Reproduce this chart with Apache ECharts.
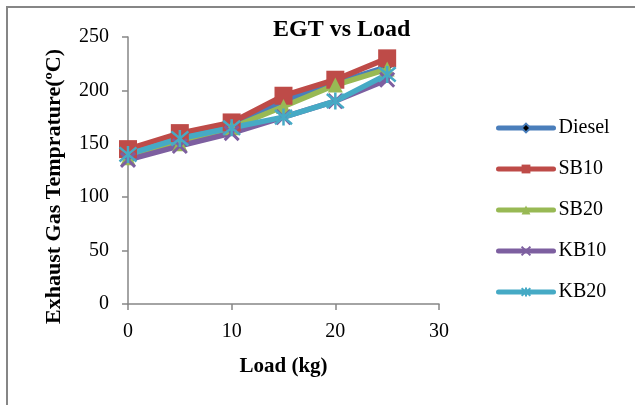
<!DOCTYPE html>
<html lang="en">
<head>
    <meta charset="UTF-8">
    <title>EGT vs Load</title>
    <script src="https://cdn.jsdelivr.net/npm/echarts@6/dist/echarts.min.js"></script>
</head>
<body style="margin:0;background:#fff;">
<div id="chart" style="width:635px;height:405px;"></div>
<script type="text/javascript">
    // load in kg
    const loads = [0, 5, 10, 15, 20, 25];
    // exhaust gas temperature, deg C
    const diesel = [140, 155, 168, 190, 207, 222];
    const sb10 = [145, 160, 170, 195, 210, 230];
    const sb20 = [137, 150, 165, 185, 205, 220];
    const kb10 = [135, 148, 160, 175, 190, 210];
    const kb20 = [140, 155, 165, 175, 190, 215];

    const xTicks = [0, 10, 20, 30];
    const yTicks = [0, 50, 100, 150, 200, 250];

    const serif = '"Liberation Serif", "DejaVu Serif", serif';
    const axisGrey = '#868686';

    function pairs(vals) {
        return loads.map(function (x, i) { return [x, vals[i]]; });
    }

    function makeSeries(name, vals, color, symbol, size, extra) {
        let s = {
            name: name,
            type: 'line',
            data: pairs(vals),
            symbol: symbol,
            symbolSize: size,
            showAllSymbol: true,
            lineStyle: {color: color, width: 5.5, cap: 'round', join: 'round'},
            itemStyle: {color: color},
            emphasis: {disabled: true},
            animation: false
        };
        if (extra) {
            s.itemStyle = extra;
        }
        return s;
    }

    // x and asterisk markers are stroked paths
    const xMark = 'path://M0,0L10,10M10,0L0,10';
    const starMark = 'path://M0,0L10,10M10,0L0,10M5,-1L5,11';

    let myChart = echarts.init(document.getElementById('chart'));
    myChart.setOption({
        animation: false,
        title: {
            text: 'EGT vs Load',
            left: 268,
            top: 13,
            textStyle: {fontFamily: serif, fontSize: 24, fontWeight: 'bold', color: '#000'}
        },
        graphic: [{
            type: 'rect',
            shape: {x: 7, y: 7, width: 700, height: 500},
            style: {fill: 'none', stroke: axisGrey, lineWidth: 2},
            silent: true
        }],
        legend: {
            orient: 'vertical',
            left: 491,
            top: 113,
            itemWidth: 55,
            itemHeight: 11,
            itemGap: 21,
            lineStyle: {width: 5, cap: 'round'},
            textStyle: {fontFamily: serif, fontSize: 20, color: '#000', lineHeight: 20},
            data: ['Diesel', 'SB10', 'SB20', 'KB10', 'KB20']
        },
        grid: {left: 128, right: 196, top: 37, bottom: 101, containLabel: false},
        xAxis: {
            type: 'value',
            min: 0,
            max: 30,
            interval: 10,
            name: 'Load (kg)',
            nameLocation: 'middle',
            nameGap: 52,
            nameTextStyle: {fontFamily: serif, fontSize: 21, fontWeight: 'bold', color: '#000'},
            axisLine: {show: true, lineStyle: {color: axisGrey, width: 1.5}},
            axisTick: {show: true, inside: false, length: 6, lineStyle: {color: axisGrey, width: 1.5}},
            axisLabel: {
                fontFamily: serif, fontSize: 20, color: '#000', margin: 18,
                formatter: function (v) { return xTicks.indexOf(v) >= 0 ? String(v) : ''; }
            },
            splitLine: {show: false}
        },
        yAxis: {
            type: 'value',
            min: 0,
            max: 250,
            interval: 50,
            name: 'Exhaust Gas Temprature(ºC)',
            nameLocation: 'middle',
            nameGap: 63,
            nameTextStyle: {fontFamily: serif, fontSize: 22, fontWeight: 'bold', color: '#000', padding: [0, 32, 0, 0]},
            axisLine: {show: true, lineStyle: {color: axisGrey, width: 1.5}},
            axisTick: {show: true, inside: false, length: 6, lineStyle: {color: axisGrey, width: 1.5}},
            axisLabel: {
                fontFamily: serif, fontSize: 20, color: '#000', margin: 19,
                formatter: function (v) { return yTicks.indexOf(v) >= 0 ? String(v) : ''; }
            },
            splitLine: {show: false}
        },
        series: [
            makeSeries('Diesel', diesel, '#4A7EBB', 'diamond', 9,
                {color: '#000', borderColor: '#4A7EBB', borderWidth: 1}),
            makeSeries('SB10', sb10, '#BE4B48', 'rect', 18),
            makeSeries('SB20', sb20, '#98B954', 'triangle', 15),
            makeSeries('KB10', kb10, '#7D5FA0', xMark, 14,
                {color: 'none', borderColor: '#7D5FA0', borderWidth: 3}),
            makeSeries('KB20', kb20, '#46AAC5', starMark, 17,
                {color: 'none', borderColor: '#46AAC5', borderWidth: 2.5})
        ]
    });
</script>
</body>
</html>
